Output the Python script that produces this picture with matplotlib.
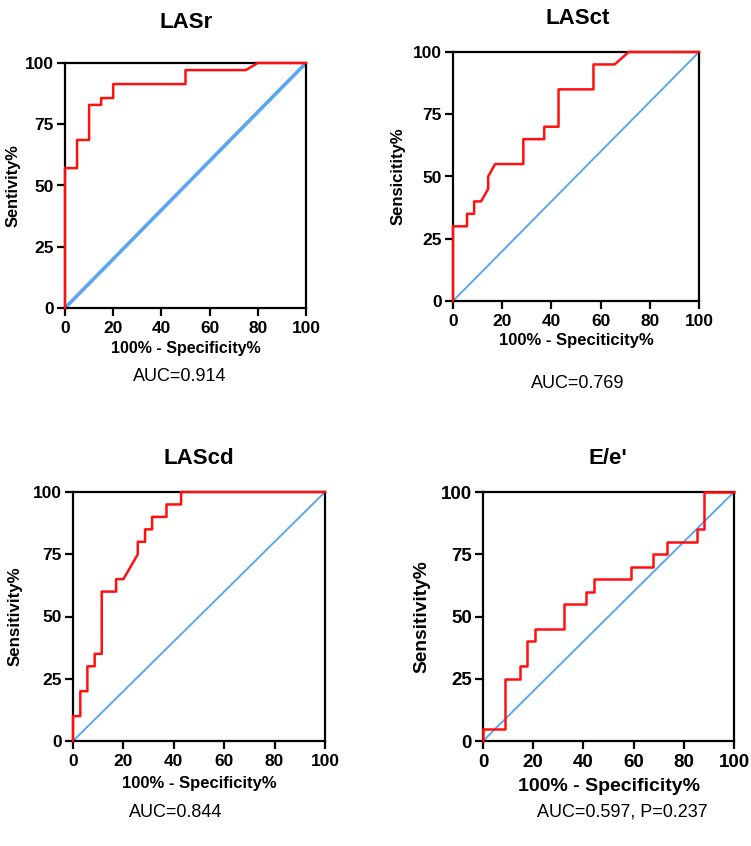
import matplotlib
matplotlib.use('Agg')
import matplotlib.pyplot as plt

plt.rcParams['font.family'] = ['Liberation Sans', 'DejaVu Sans']

# ROC step curves: x = 100% - specificity%, y = sensitivity%
lasr_x = [0, 0, 5, 5, 10, 10, 15, 15, 20, 20, 50, 50, 75, 80, 100]
lasr_y = [0, 57.1, 57.1, 68.6, 68.6, 82.9, 82.9, 85.7, 85.7, 91.4, 91.4, 97.1, 97.1, 100, 100]

lasct_x = [0, 0, 5.7, 5.7, 8.6, 8.6, 11.4, 14.3, 14.3, 17.1, 28.6, 28.6, 37.1, 37.1,
           42.9, 42.9, 57.1, 57.1, 65.7, 71.4, 100]
lasct_y = [0, 30, 30, 35, 35, 40, 40, 45, 50, 55, 55, 65, 65, 70,
           70, 85, 85, 95, 95, 100, 100]

lascd_x = [0, 0, 2.9, 2.9, 5.7, 5.7, 8.6, 8.6, 11.4, 11.4, 17.1, 17.1, 20, 25.7, 25.7,
           28.6, 28.6, 31.4, 31.4, 37.1, 37.1, 42.9, 42.9, 100]
lascd_y = [0, 10, 10, 20, 20, 30, 30, 35, 35, 60, 60, 65, 65, 75, 80,
           80, 85, 85, 90, 90, 95, 95, 100, 100]

ee_x = [0, 0, 8.8, 8.8, 14.7, 14.7, 17.6, 17.6, 20.6, 20.6, 32.4, 32.4, 41.2, 41.2,
        44.1, 44.1, 58.8, 58.8, 67.6, 67.6, 73.5, 73.5, 85.3, 85.3, 88.2, 88.2, 100]
ee_y = [0, 5, 5, 25, 25, 30, 30, 40, 40, 45, 45, 55, 55, 60,
        60, 65, 65, 70, 70, 75, 75, 80, 80, 85, 85, 100, 100]

titles = ['LASr', 'LASct', 'LAScd', "E/e'"]
ylabels = ['Sentivity%', 'Sensicitity%', 'Sensitivity%', 'Sensitivity%']
xlabels = ['100% - Specificity%', '100% - Speciticity%', '100% - Specificity%', '100% - Specificity%']
auc_texts = ['AUC=0.914', 'AUC=0.769', 'AUC=0.844', 'AUC=0.597, P=0.237']
ticks = [0, 20, 40, 60, 80, 100]
yticks = [0, 25, 50, 75, 100]

W, H = 751, 846
fig = plt.figure(figsize=(W / 100, H / 100), dpi=100)

# axes boxes in pixels: left, top, right, bottom
boxes = [(65, 63, 306, 308), (453, 52, 699, 301), (73, 492, 325, 741), (483, 492, 734, 741)]
curves = [(lasr_x, lasr_y), (lasct_x, lasct_y), (lascd_x, lascd_y), (ee_x, ee_y)]
blue_lw = [2.6, 1.4, 1.4, 1.4]
tick_fs = [12.5, 12.5, 12.5, 13.5]
lab_fs = [11.5, 12, 12, 14]
ylab_fs = [11.8, 12, 12.2, 13.8]
# text positions (pixels)
title_pos = [(186, 23), (578, 18), (199, 459), (608, 459)]
xlab_y = [348, 340, 783, 786]
ylab_x = [13, 398, 15, 422]
auc_pos = [(180, 376), (578, 383), (176, 812), (622, 812)]

red = '#FF1010'
blue = '#5BA6F2'

for i in range(4):
    l, t, r, b = boxes[i]
    ax = fig.add_axes([l / W, 1 - b / H, (r - l) / W, (b - t) / H])
    ax.plot([0, 100], [0, 100], color=blue, lw=blue_lw[i], solid_capstyle='butt')
    ax.plot(curves[i][0], curves[i][1], color=red, lw=1.8, clip_on=False, zorder=4)
    ax.set_xlim(0, 100)
    ax.set_ylim(0, 100)
    ax.set_xticks(ticks)
    ax.set_yticks(yticks)
    for s in ax.spines.values():
        s.set_linewidth(1.6)
    ax.tick_params(direction='out', length=6, width=1.6, labelsize=tick_fs[i])
    ax.tick_params(axis='x', pad=3)
    ax.tick_params(axis='y', pad=2)
    for lab in ax.get_xticklabels() + ax.get_yticklabels():
        lab.set_fontweight('bold')

    cy = (t + b) / 2
    fig.text(title_pos[i][0] / W, 1 - title_pos[i][1] / H, titles[i], fontsize=16,
             fontweight='bold', ha='center', va='center')
    fig.text((l + r) / 2 / W, 1 - xlab_y[i] / H, xlabels[i], fontsize=lab_fs[i],
             fontweight='bold', ha='center', va='center')
    fig.text(ylab_x[i] / W, 1 - cy / H, ylabels[i], fontsize=ylab_fs[i],
             fontweight='bold', rotation=90, ha='center', va='center')
    fig.text(auc_pos[i][0] / W, 1 - auc_pos[i][1] / H, auc_texts[i], fontsize=13,
             ha='center', va='center')

fig.savefig('out.png', dpi=100)
